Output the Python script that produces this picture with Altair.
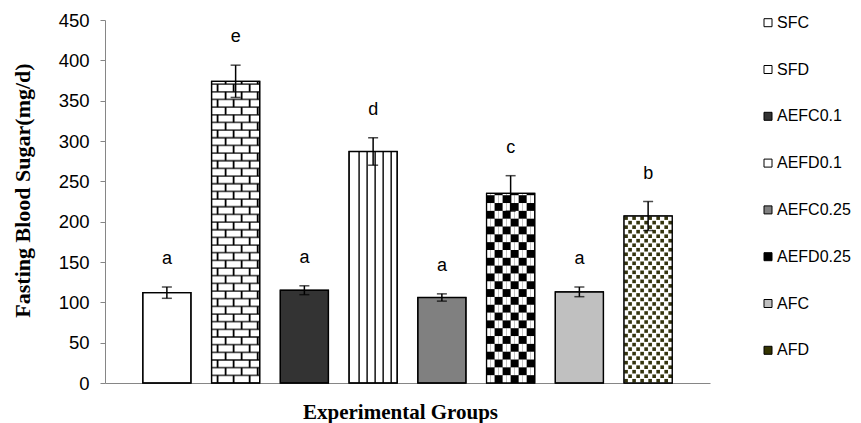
import altair as alt
import pandas as pd

# ---- data ----
groups = ["SFC", "SFD", "AEFC0.1", "AEFD0.1", "AEFC0.25", "AEFD0.25", "AFC", "AFD"]
means = [112, 374, 115, 287, 106, 235, 113, 207]
errors = [7, 20, 5.5, 17, 4.5, 22, 6, 18]
letters = ["a", "e", "a", "d", "a", "c", "a", "b"]
legend_fills = ["#ffffff", "#ffffff", "#333333", "#ffffff", "#808080", "#000000", "#c0c0c0", "#333300"]
y_ticks = [0, 50, 100, 150, 200, 250, 300, 350, 400, 450]

df = pd.DataFrame({"group": groups, "mean": means, "err": errors, "letter": letters})
df["lo"] = df["mean"] - df["err"]
df["hi"] = df["mean"] + df["err"]
val = dict(zip(groups, means))

SUBS = list(range(12))  # sub-columns inside each bar, used for the fill patterns

# brick pattern (SFD)
brick_h = 9.5
brick_lines, brick_joints = [], []
k = 0
while k * brick_h < val["SFD"]:
    y0 = k * brick_h
    y1 = min((k + 1) * brick_h, val["SFD"])
    if k > 0:
        brick_lines.append({"group": "SFD", "y": y0})
    for s in ([1, 5, 9] if k % 2 == 0 else [3, 7, 11]):
        brick_joints.append({"group": "SFD", "sub": s, "y0": y0, "y1": y1})
    k += 1
brick_lines = pd.DataFrame(brick_lines)
brick_joints = pd.DataFrame(brick_joints)

# vertical stripes (AEFD0.1)
stripes = pd.DataFrame([{"group": "AEFD0.1", "sub": s, "y0": 0, "y1": val["AEFD0.1"]} for s in [2, 4, 6, 8, 10]])

# checkerboard (AEFD0.25)
cell_h = 9.7
cells = []
r = 0
while r * cell_h < val["AEFD0.25"]:
    y0 = r * cell_h
    y1 = min((r + 1) * cell_h, val["AEFD0.25"])
    for c in range(6):
        if (r + c) % 2 == 0:
            for s in (2 * c, 2 * c + 1):
                cells.append({"group": "AEFD0.25", "sub": s, "y0": y0, "y1": y1})
    r += 1
cells = pd.DataFrame(cells)

# dotted pattern (AFD)
dot_h = 5.6
dots = []
r = 0
while (r + 0.5) * dot_h < val["AFD"] - 2:
    for s in (range(0, 12, 2) if r % 2 == 0 else range(1, 12, 2)):
        dots.append({"group": "AFD", "sub": s, "y": (r + 0.5) * dot_h})
    r += 1
dots = pd.DataFrame(dots)

# ---- encodings ----
xs = alt.X(
    "group:N",
    sort=groups,
    scale=alt.Scale(domain=groups, paddingInner=0.3, paddingOuter=0.55),
    axis=alt.Axis(
        labels=False, ticks=False, domainColor="#868686", title="Experimental Groups",
        titleFont="Liberation Serif", titleFontSize=21, titleFontWeight="bold", titleColor="black",
        titleX=295, titleY=35, titleBaseline="alphabetic",
    ),
)
ys = alt.Y(
    "mean:Q",
    scale=alt.Scale(domain=[0, 450], nice=False),
    axis=alt.Axis(
        values=y_ticks, grid=False, tickSize=5, tickColor="#868686", domainColor="#868686",
        labelFont="Liberation Sans", labelFontSize=18.5, labelColor="black", labelPadding=11,
        title="Fasting Blood Sugar(mg/d)", titleFont="Liberation Serif", titleFontSize=22,
        titleFontWeight="bold", titleColor="black", titleX=-83, titleY=170,
        titleAlign="center", titleBaseline="middle",
    ),
)
xo = alt.XOffset("sub:O", scale=alt.Scale(domain=SUBS, paddingInner=0, paddingOuter=0))

base = alt.Chart(df)

bars = base.mark_bar(stroke="black", strokeWidth=1.2).encode(
    x=xs,
    y=ys,
    fill=alt.Fill(
        "group:N",
        sort=groups,
        scale=alt.Scale(domain=groups, range=legend_fills),
        legend=alt.Legend(
            title=None, orient="none", legendX=655, legendY=-5.3, direction="vertical",
            symbolType="square", symbolSize=64, symbolStrokeColor="black", symbolStrokeWidth=1,
            labelFont="Liberation Sans", labelFontSize=16, labelColor="black",
            labelOffset=1, rowPadding=30.8, padding=0,
        ),
    ),
)

afd_cover = base.transform_filter(alt.datum.group == "AFD").mark_bar(fill="white").encode(
    x=alt.X("group:N", sort=groups), y="mean:Q"
)

stripe_layer = alt.Chart(stripes).mark_rule(color="black", strokeWidth=1.4).encode(
    x=alt.X("group:N", sort=groups), xOffset=xo, y="y0:Q", y2="y1:Q"
)

brick_h_layer = alt.Chart(brick_lines).mark_tick(color="black", thickness=1.8, size=48).encode(
    x=alt.X("group:N", sort=groups), y="y:Q"
)
brick_v_layer = alt.Chart(brick_joints).mark_rule(color="black", strokeWidth=1.8).encode(
    x=alt.X("group:N", sort=groups), xOffset=xo, y="y0:Q", y2="y1:Q"
)

checker_layer = alt.Chart(cells).mark_rect(fill="white").encode(
    x=alt.X("group:N", sort=groups), xOffset=xo, y="y0:Q", y2="y1:Q"
)

dot_layer = alt.Chart(dots).mark_square(size=13, color="#34340e", opacity=1).encode(
    x=alt.X("group:N", sort=groups), xOffset=xo, y="y:Q"
)

outline = base.mark_bar(fill="transparent", stroke="black", strokeWidth=1.3).encode(
    x=alt.X("group:N", sort=groups), y="mean:Q"
)

err_rule = base.mark_rule(color="black", strokeWidth=1.5).encode(
    x=alt.X("group:N", sort=groups), y="lo:Q", y2="hi:Q"
)
caps = base.transform_fold(["lo", "hi"], as_=["end", "v"]).mark_tick(
    color="black", thickness=1.5, size=10
).encode(x=alt.X("group:N", sort=groups), y="v:Q")

labels = base.mark_text(dy=-28, fontSize=18, font="Liberation Sans", color="black").encode(
    x=alt.X("group:N", sort=groups), y="hi:Q", text="letter:N"
)

chart = alt.layer(
    bars, afd_cover, stripe_layer, brick_h_layer, brick_v_layer, checker_layer, dot_layer,
    outline, err_rule, caps, labels,
).properties(
    width=605,
    height=363,
    autosize=alt.AutoSizeParams(type="none"),
    padding={"left": 97, "top": 12, "right": 143, "bottom": 40},
).configure_view(stroke=None)

chart.save("out.html", embed_options={"renderer": "svg", "actions": False})
